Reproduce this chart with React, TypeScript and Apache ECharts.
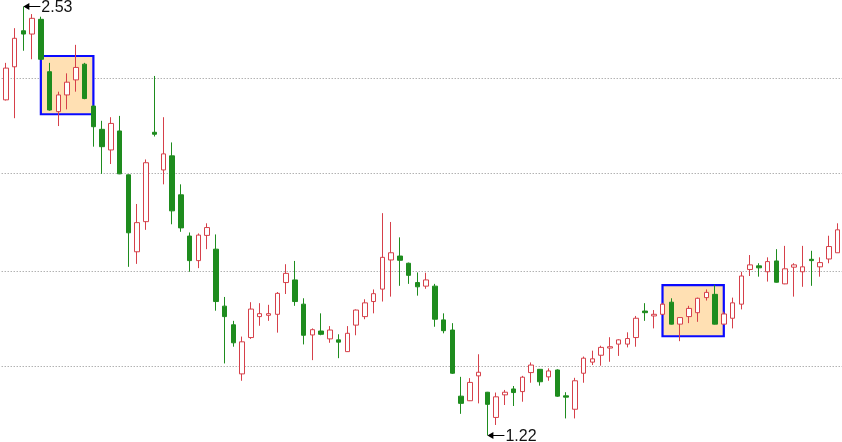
import React, { useEffect, useRef } from "react";
import * as echarts from "echarts";

// OHLC values (index 0 is the partly hidden first candle)
const opens = [
  2.214, 2.245, 2.346, 2.456, 2.446, 2.491, 2.331, 2.209, 2.26, 2.306,
  2.354, 2.226, 2.155, 2.092, 2.15, 2.016, 1.781, 1.873, 2.146, 2.031,
  2.074, 1.955, 1.829, 1.754, 1.831, 1.789, 1.615, 1.558, 1.408, 1.519,
  1.583, 1.587, 1.59, 1.687, 1.695, 1.621, 1.527, 1.539, 1.515, 1.512,
  1.476, 1.557, 1.583, 1.629, 1.667, 1.756, 1.768, 1.746, 1.687, 1.676,
  1.676, 1.573, 1.542, 1.34, 1.326, 1.402, 1.352, 1.275, 1.344, 1.362,
  1.354, 1.412, 1.422, 1.399, 1.42, 1.341, 1.3, 1.41, 1.444, 1.465,
  1.487, 1.499, 1.499, 1.519, 1.6, 1.585, 1.59, 1.627, 1.56, 1.583,
  1.595, 1.641, 1.651, 1.56, 1.578, 1.621, 1.727, 1.738, 1.72, 1.753,
  1.683, 1.734, 1.72, 1.758, 1.735, 1.759, 1.778,
];
const closes = [
  2.238, 2.342, 2.433, 2.446, 2.494, 2.369, 2.214, 2.26, 2.299, 2.344,
  2.249, 2.163, 2.102, 2.173, 2.019, 1.839, 1.87, 2.053, 2.14, 2.08,
  1.906, 1.854, 1.754, 1.832, 1.855, 1.629, 1.583, 1.503, 1.506, 1.606,
  1.592, 1.592, 1.654, 1.715, 1.629, 1.526, 1.543, 1.529, 1.542, 1.505,
  1.532, 1.603, 1.625, 1.653, 1.764, 1.778, 1.755, 1.709, 1.674, 1.695,
  1.575, 1.54, 1.41, 1.318, 1.382, 1.413, 1.315, 1.338, 1.352, 1.351,
  1.398, 1.435, 1.384, 1.417, 1.34, 1.337, 1.387, 1.456, 1.454, 1.489,
  1.491, 1.512, 1.516, 1.578, 1.595, 1.59, 1.621, 1.56, 1.58, 1.608,
  1.639, 1.657, 1.56, 1.591, 1.625, 1.707, 1.741, 1.732, 1.751, 1.688,
  1.729, 1.741, 1.735, 1.754, 1.748, 1.797, 1.848,
];
const lows = [
  2.202, 2.243, 2.189, 2.395, 2.369, 2.367, 2.212, 2.165, 2.216, 2.27,
  2.247, 2.102, 2.019, 2.049, 2.018, 1.735, 1.744, 1.848, 2.133, 1.987,
  1.865, 1.842, 1.72, 1.731, 1.789, 1.601, 1.44, 1.491, 1.387, 1.515,
  1.555, 1.57, 1.534, 1.652, 1.616, 1.498, 1.45, 1.526, 1.503, 1.456,
  1.475, 1.526, 1.575, 1.593, 1.629, 1.644, 1.677, 1.683, 1.647, 1.668,
  1.552, 1.532, 1.408, 1.286, 1.325, 1.318, 1.22, 1.252, 1.313, 1.31,
  1.323, 1.381, 1.372, 1.387, 1.338, 1.272, 1.272, 1.381, 1.435, 1.433,
  1.445, 1.463, 1.489, 1.491, 1.57, 1.547, 1.588, 1.559, 1.508, 1.563,
  1.567, 1.632, 1.559, 1.559, 1.547, 1.605, 1.707, 1.705, 1.69, 1.687,
  1.682, 1.644, 1.674, 1.677, 1.705, 1.746, 1.778,
];
const highs = [
  2.251, 2.358, 2.464, 2.53, 2.507, 2.499, 2.358, 2.27, 2.326, 2.413,
  2.358, 2.228, 2.181, 2.192, 2.196, 2.017, 1.927, 2.063, 2.318, 2.192,
  2.115, 1.987, 1.84, 1.837, 1.868, 1.834, 1.643, 1.57, 1.522, 1.627,
  1.624, 1.619, 1.658, 1.743, 1.753, 1.639, 1.547, 1.593, 1.554, 1.529,
  1.554, 1.605, 1.636, 1.666, 1.899, 1.872, 1.825, 1.748, 1.718, 1.717,
  1.683, 1.593, 1.563, 1.399, 1.395, 1.468, 1.353, 1.351, 1.359, 1.371,
  1.402, 1.443, 1.423, 1.425, 1.422, 1.352, 1.396, 1.461, 1.479, 1.494,
  1.52, 1.514, 1.535, 1.585, 1.624, 1.603, 1.625, 1.639, 1.581, 1.616,
  1.641, 1.666, 1.68, 1.598, 1.641, 1.72, 1.771, 1.746, 1.764, 1.789,
  1.799, 1.746, 1.799, 1.784, 1.764, 1.83, 1.868,
];

const categories = opens.map((_, i) => String(i));

// highlighted zones: [startIndex, endIndex, top value, bottom value]
const zoneStarts = [5, 76];
const zoneEnds = [11, 83];
const zoneTops = [2.379, 1.679];
const zoneBottoms = [2.201, 1.523];

// dotted horizontal guide levels
const gridLevels = [2.3102, 2.017, 1.7238, 1.4336];

const AXIS_MIN = 1.2;
const AXIS_MAX = 2.55;

const UP = "#d6404a";
const DOWN = "#1e8c1e";

export default function App() {
  const ref = useRef<HTMLDivElement>(null);

  useEffect(() => {
    if (!ref.current) return;
    const chart = echarts.init(ref.current, undefined, { renderer: "svg" });
    const ohlc = opens.map((o, i) => [o, closes[i], lows[i], highs[i]]);
    const arrow = "path://M0,3.5 L6,0 L6,3 L17,3 L17,4 L6,4 L6,7 Z";

    chart.setOption({
      animation: false,
      grid: {
        left: -7.3,
        right: 0,
        top: 0,
        bottom: 0,
        containLabel: false,
        outerBoundsMode: "none",
      },
      xAxis: {
        type: "category",
        data: categories,
        boundaryGap: true,
        show: false,
      },
      yAxis: {
        type: "value",
        min: AXIS_MIN,
        max: AXIS_MAX,
        show: false,
        splitLine: { show: false },
      },
      series: [
        {
          type: "candlestick",
          data: ohlc,
          barWidth: 5,
          itemStyle: {
            color: "#ffffff",
            color0: DOWN,
            borderColor: UP,
            borderColor0: DOWN,
            borderWidth: 1,
          },
          markLine: {
            silent: true,
            z: 0,
            symbol: ["none", "none"],
            label: { show: false },
            emphasis: { disabled: true },
            lineStyle: { color: "#8f8f8f", width: 1, type: [1, 2] },
            data: gridLevels.map((v) => ({ yAxis: v })),
          },
          markArea: {
            silent: true,
            itemStyle: {
              color: "#ffe0b3",
              borderColor: "#0a0aff",
              borderWidth: 2.2,
            },
            emphasis: { disabled: true },
            data: zoneStarts.map((s, i) => [
              { xAxis: categories[s], yAxis: zoneTops[i] },
              { xAxis: categories[zoneEnds[i]], yAxis: zoneBottoms[i] },
            ]),
          },
          markPoint: {
            silent: true,
            symbol: arrow,
            symbolSize: [17, 7],
            symbolOffset: [8.5, 0],
            itemStyle: { color: "#000" },
            label: {
              show: true,
              position: "right",
              distance: 1,
              color: "#111",
              fontSize: 16,
              lineHeight: 12,
              fontFamily: "Liberation Sans, Arial, sans-serif",
              formatter: (p: any) => Number(p.value).toFixed(2),
            },
            data: [
              { type: "max", valueDim: "highest" },
              { type: "min", valueDim: "lowest" },
            ],
          },
        },
      ],
    });

    return () => chart.dispose();
  }, []);

  return (
    <div
      ref={ref}
      style={{ position: "fixed", left: 0, top: 0, width: 842, height: 442 }}
    />
  );
}
